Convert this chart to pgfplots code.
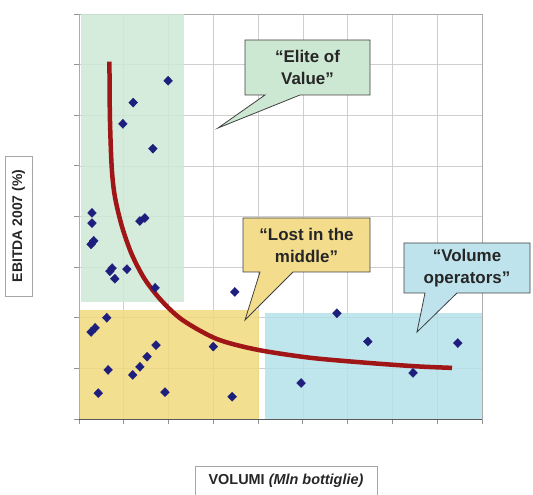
\documentclass[border=0pt]{standalone}
\usepackage{pgfplots}
\pgfplotsset{compat=1.18}
\usepackage{fontspec}
\setmainfont{Liberation Sans}
\definecolor{regGreen}{RGB}{206,233,214}
\definecolor{regYellow}{RGB}{241,217,125}
\definecolor{regBlue}{RGB}{180,224,234}
\definecolor{boxGreen}{RGB}{205,232,210}
\definecolor{boxYellow}{RGB}{243,220,140}
\definecolor{boxBlue}{RGB}{190,227,236}
\definecolor{navyMark}{RGB}{30,30,125}
\definecolor{curveRed}{RGB}{160,22,22}

\begin{document}
\begin{tikzpicture}
\useasboundingbox (-79bp,-76bp) rectangle (454bp,419bp);
\begin{axis}[
  at={(0,0)}, anchor=south west,
  scale only axis, width=403bp, height=405bp,
  xmin=0, xmax=9, ymin=0, ymax=8,
  xtick={0,...,9}, ytick={0,...,8},
  xticklabels={}, yticklabels={},
  xtick pos=left, ytick pos=left,
  grid=major,
  major grid style={draw=gray!38, line width=0.6bp},
  axis line style={draw=gray!65, line width=0.8bp},
  tick align=outside, major tick length=5bp,
  tick style={draw=gray!85, line width=0.8bp},
]
% zones
\fill[regGreen, fill opacity=0.85] (axis cs:0.04,2.31) rectangle (axis cs:2.34,8);
\fill[regYellow, fill opacity=0.85] (axis cs:0.02,0) rectangle (axis cs:4.02,2.15);
\fill[regBlue, fill opacity=0.85] (axis cs:4.15,0) rectangle (axis cs:9,2.09);

% aziende
\addplot[only marks, mark=diamond*, mark size=4.5bp, color=navyMark,
  mark options={xscale=1.3}] coordinates {
(1.99,6.68) (1.21,6.25) (0.98,5.83) (1.65,5.34)
(0.29,4.07) (0.29,3.87) (0.33,3.52) (0.27,3.45)
(1.36,3.91) (1.47,3.97)
(0.74,2.98) (0.69,2.92) (0.80,2.77) (1.07,2.96) (1.70,2.59)
(3.48,2.51)
(0.62,2.00) (0.36,1.80) (0.27,1.72)
(1.72,1.46) (3.00,1.43) (1.52,1.23) (1.36,1.03) (1.20,0.87)
(0.65,0.97) (0.43,0.51) (1.92,0.53) (3.42,0.44)
(4.96,0.71) (5.76,2.09) (6.45,1.53) (7.46,0.91) (8.46,1.50)
};

% curva
\addplot[line width=4.5bp, color=curveRed, smooth, tension=0.5] coordinates {
(0.68,7.06) (0.69,5.97) (0.73,4.98) (0.80,4.40) (0.96,3.80)
(1.18,3.25) (1.47,2.76) (1.85,2.33) (2.32,1.95) (3.08,1.58)
(3.97,1.37) (5.16,1.21) (6.43,1.11) (7.54,1.04) (8.33,1.01)
};
\end{axis}

\draw[black!65, line width=1bp] (0,0) -- (403bp,0);

% callouts
\draw[draw=black!75, fill=boxGreen, line width=0.8bp]
  (166bp,379bp) -- (291bp,379bp) -- (291bp,324bp) -- (221bp,324bp)
  -- (139bp,291bp) -- (186bp,324bp) -- (166bp,324bp) -- cycle;
\node[align=center, text=black!85, font=\bfseries\fontsize{17}{22}\selectfont]
  at (228.5bp,351.5bp) {“Elite of\\Value”};

\draw[draw=black!75, fill=boxYellow, line width=0.8bp]
  (164bp,201bp) -- (291bp,201bp) -- (291bp,147bp) -- (214bp,147bp)
  -- (166bp,99bp) -- (181bp,147bp) -- (164bp,147bp) -- cycle;
\node[align=center, text=black!85, font=\bfseries\fontsize{17}{22}\selectfont]
  at (227.5bp,174bp) {“Lost in the\\middle”};

\draw[draw=black!75, fill=boxBlue, line width=0.8bp]
  (325bp,176bp) -- (451bp,176bp) -- (451bp,126bp) -- (378bp,126bp)
  -- (338bp,87bp) -- (346bp,126bp) -- (325bp,126bp) -- cycle;
\node[align=center, text=black!85, font=\bfseries\fontsize{17}{22}\selectfont]
  at (388bp,151bp) {“Volume\\operators”};

% axis titles
\node[draw=gray!70, fill=white, rotate=90, minimum width=140bp, minimum height=27bp,
  inner sep=0pt, text=black!85, font=\bfseries\fontsize{14}{16}\selectfont]
  at (-60.5bp,193bp) {EBITDA 2007 (\%)};
\node[draw=gray!70, fill=white, minimum width=182bp, minimum height=30bp,
  inner sep=0pt, text=black!85, font=\bfseries\fontsize{14.5}{16}\selectfont]
  at (207bp,-62bp) {VOLUMI \textit{(Mln bottiglie)}};
\end{tikzpicture}
\end{document}
